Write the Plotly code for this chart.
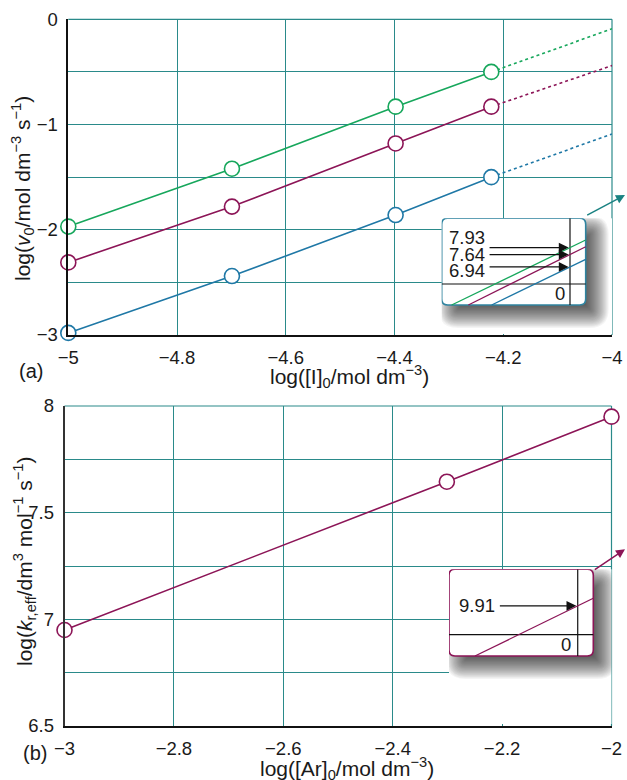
import plotly.graph_objects as go

W, H = 627, 780

# ---------------- data: panel (a) ----------------
log_I0 = [-5.0, -4.699, -4.398, -4.222]
log_v0_green = [-1.97, -1.42, -0.83, -0.50]
log_v0_purple = [-2.31, -1.78, -1.18, -0.83]
log_v0_blue = [-2.98, -2.44, -1.86, -1.50]
log_I0_extrap = [-4.222, -4.0]
extrap_green = [-0.50, -0.09]
extrap_purple = [-0.83, -0.44]
extrap_blue = [-1.50, -1.09]

# ---------------- data: panel (b) ----------------
log_Ar0 = [-3.0, -2.301, -2.0]
log_k_eff = [6.95, 7.645, 7.95]

# ---------------- inset data (schematic, inset units) ----------------
inset_a_labels = ["7.93", "7.64", "6.94"]
inset_a_green_u = [0.069, 1.0]
inset_a_green_v = [0.0, 0.75]
inset_a_purple_u = [0.185, 1.0]
inset_a_purple_v = [0.0, 0.672]
inset_a_blue_u = [0.347, 1.0]
inset_a_blue_v = [0.0, 0.527]
inset_a_axis_u = 0.891
inset_a_axis_v = 0.242

inset_b_label = "9.91"
inset_b_u = [0.18, 1.0]
inset_b_v = [0.0, 0.666]
inset_b_axis_u = 0.892
inset_b_axis_v = 0.246

# ---------------- tick labels ----------------
M = "\u2212"
xa_ticks = [-5, -4.8, -4.6, -4.4, -4.2, -4]
xa_text = [M + "5", M + "4.8", M + "4.6", M + "4.4", M + "4.2", M + "4"]
ya_ticks = [0, -0.5, -1, -1.5, -2, -2.5, -3]
ya_text = ["0", "", M + "1", "", M + "2", "", M + "3"]
xb_ticks = [-3, -2.8, -2.6, -2.4, -2.2, -2]
xb_text = [M + "3", M + "2.8", M + "2.6", M + "2.4", M + "2.2", M + "2"]
yb_ticks = [6.5, 6.75, 7, 7.25, 7.5, 7.75, 8]
yb_text = ["6.5", "", "7", "", "7.5", "", "8"]

# ---------------- styles ----------------
GREEN = "#17a75c"
PURPLE = "#8c1557"
BLUE = "#1f78a6"
GRID = "#2a8a8a"
TEAL = "#1a8282"
INSET_A_BORDER = "#2f84a0"
FONT = "Liberation Sans"
TXT = "#1a1a1a"
TICK_SIZE = 18.5
TITLE_SIZE = 21


def px(x):
    return x / W


def py(y):
    return 1 - y / H


fig = go.Figure()


def series(x, y, color, xa, ya):
    fig.add_trace(go.Scatter(
        x=x, y=y, mode="lines+markers", xaxis=xa, yaxis=ya, cliponaxis=False,
        line=dict(color=color, width=1.6),
        marker=dict(size=15, color="white", line=dict(color=color, width=1.6)),
        showlegend=False, hoverinfo="skip"))


def dotted(x, y, color, xa, ya):
    fig.add_trace(go.Scatter(
        x=x, y=y, mode="lines", xaxis=xa, yaxis=ya,
        line=dict(color=color, width=1.6, dash="dot"),
        showlegend=False, hoverinfo="skip"))


# panel (a)
dotted(log_I0_extrap, extrap_green, GREEN, "x", "y")
dotted(log_I0_extrap, extrap_purple, PURPLE, "x", "y")
dotted(log_I0_extrap, extrap_blue, BLUE, "x", "y")
series(log_I0, log_v0_green, GREEN, "x", "y")
series(log_I0, log_v0_purple, PURPLE, "x", "y")
series(log_I0, log_v0_blue, BLUE, "x", "y")

# panel (b)
series(log_Ar0, log_k_eff, PURPLE, "x2", "y2")

# inset (a) lines
for u, v, c in [(inset_a_green_u, inset_a_green_v, GREEN),
                (inset_a_purple_u, inset_a_purple_v, PURPLE),
                (inset_a_blue_u, inset_a_blue_v, BLUE)]:
    fig.add_trace(go.Scatter(x=u, y=v, mode="lines", xaxis="x3", yaxis="y3",
                             line=dict(color=c, width=1.3), showlegend=False,
                             hoverinfo="skip"))
# inset (b) line
fig.add_trace(go.Scatter(x=inset_b_u, y=inset_b_v, mode="lines", xaxis="x4", yaxis="y4",
                         line=dict(color=PURPLE, width=1.3), showlegend=False,
                         hoverinfo="skip"))

tickfont = dict(family=FONT, size=TICK_SIZE, color=TXT)
common = dict(showgrid=True, gridcolor=GRID, gridwidth=1, zeroline=False,
              showline=True, linecolor="#111", linewidth=1.5, automargin=False,
              ticks="outside", ticklen=5, tickcolor="rgba(0,0,0,0)",
              tickfont=tickfont, tickmode="array")

# main plot domains (px)
A_L, A_R, A_T, A_B = 68.3, 612.0, 19.3, 335.0
B_L, B_R, B_T, B_B = 64.5, 611.5, 406.0, 726.0

# inset boxes (px)
IA = dict(l=441.7, r=585.7, t=218.3, b=305.0, dr=612.0, db=334.0)
IB = dict(l=449.0, r=593.3, t=569.3, b=656.0, dr=611.5, db=724.0)


def inset_axes(box):
    w = box["r"] - box["l"]
    h = box["b"] - box["t"]
    xr = [0, (box["dr"] - box["l"]) / w]
    yr = [-(box["db"] - box["b"]) / h, 1]
    xd = [px(box["l"]), px(box["dr"])]
    yd = [py(box["db"]), py(box["t"])]
    return (w, h, dict(domain=xd, range=xr, visible=False, automargin=False),
            dict(domain=yd, range=yr, visible=False, automargin=False))


wa, ha, x3, y3 = inset_axes(IA)
wb, hb, x4, y4 = inset_axes(IB)

fig.update_layout(
    width=W, height=H, margin=dict(l=0, r=0, t=0, b=0, autoexpand=False),
    paper_bgcolor="white", plot_bgcolor="white",
    font=dict(family=FONT, color=TXT),
    xaxis=dict(domain=[px(A_L), px(A_R)], range=[-5, -4], anchor="y",
               tickvals=xa_ticks, ticktext=xa_text, **common),
    yaxis=dict(domain=[py(A_B), py(A_T)], range=[-3, 0], anchor="x",
               tickvals=ya_ticks, ticktext=ya_text, **common),
    xaxis2=dict(domain=[px(B_L), px(B_R)], range=[-3, -2], anchor="y2",
                tickvals=xb_ticks, ticktext=xb_text, **common),
    yaxis2=dict(domain=[py(B_B), py(B_T)], range=[6.5, 8], anchor="x2",
                tickvals=yb_ticks, ticktext=yb_text, **common),
    xaxis3=dict(anchor="y3", **x3), yaxis3=dict(anchor="x3", **y3),
    xaxis4=dict(anchor="y4", **x4), yaxis4=dict(anchor="x4", **y4),
)
fig.layout.yaxis2.linecolor = "#333"

shapes = []
# teal top / right border of main plots
for (l, r, t, b) in [(A_L, A_R, A_T, A_B), (B_L, B_R, B_T, B_B)]:
    shapes.append(dict(type="line", xref="paper", yref="paper", layer="below",
                       x0=px(l), x1=px(r), y0=py(t), y1=py(t), line=dict(color=GRID, width=1.2)))
    shapes.append(dict(type="line", xref="paper", yref="paper", layer="below",
                       x0=px(r), x1=px(r), y0=py(t), y1=py(b), line=dict(color=GRID, width=1.2)))


def rrect(x0, x1, y0, y1, rx, ry):
    rx = max(rx, 0)
    ry = max(ry, 0)
    return (f"M{x0+rx},{y0} L{x1-rx},{y0} Q{x1},{y0} {x1},{y0+ry} "
            f"L{x1},{y1-ry} Q{x1},{y1} {x1-rx},{y1} L{x0+rx},{y1} "
            f"Q{x0},{y1} {x0},{y1-ry} L{x0},{y0+ry} Q{x0},{y0} {x0+rx},{y0} Z")


def inset_shapes(xr, yr, w, h, border, ax_u, ax_v):
    out = []
    R = 6.0
    ox, oy, B, K = 10.0, 10.0, 13.0, 24
    alpha = 0.045
    for k in range(K):
        e = B - 2 * B * k / (K - 1)
        x0 = (ox - e) / w
        x1 = 1 + (ox + e) / w
        y0 = (-oy - e) / h
        y1 = 1 + (-oy + e) / h
        rr = R + e
        out.append(dict(type="path", xref=xr, yref=yr, layer="below",
                        path=rrect(x0, x1, y0, y1, rr / w, rr / h),
                        fillcolor=f"rgba(0,0,0,{alpha})", line=dict(width=0)))
    out.append(dict(type="path", xref=xr, yref=yr, layer="below",
                    path=rrect(0, 1, 0, 1, R / w, R / h),
                    fillcolor="white", line=dict(color=border, width=1.6)))
    out.append(dict(type="line", xref=xr, yref=yr, layer="below",
                    x0=ax_u, x1=ax_u, y0=0, y1=1, line=dict(color="#111", width=1.2)))
    out.append(dict(type="line", xref=xr, yref=yr, layer="below",
                    x0=0, x1=1, y0=ax_v, y1=ax_v, line=dict(color="#111", width=1.2)))
    return out


shapes += inset_shapes("x3", "y3", wa, ha, INSET_A_BORDER, inset_a_axis_u, inset_a_axis_v)
shapes += inset_shapes("x4", "y4", wb, hb, PURPLE, inset_b_axis_u, inset_b_axis_v)


def cross(u, v, ua):
    return v[0] + (v[1] - v[0]) * (ua - u[0]) / (u[1] - u[0])


ann = []
# inset (a) arrows & labels
label_v_a = [0.773, 0.577, 0.396]
for lbl, lv, (u, v) in zip(inset_a_labels, label_v_a,
                          [(inset_a_green_u, inset_a_green_v),
                           (inset_a_purple_u, inset_a_purple_v),
                           (inset_a_blue_u, inset_a_blue_v)]):
    vc = cross(u, v, inset_a_axis_u)
    ann.append(dict(xref="x3", yref="y3", axref="x3", ayref="y3",
                    x=inset_a_axis_u - 0.01, y=vc, ax=0.322, ay=vc, text="",
                    showarrow=True, arrowhead=2, arrowsize=1.5, arrowwidth=1.3,
                    arrowcolor="#111"))
    ann.append(dict(xref="x3", yref="y3", x=0.035, y=lv, text=lbl, showarrow=False,
                    xanchor="left", yanchor="middle",
                    font=dict(family=FONT, size=TICK_SIZE, color=TXT)))
ann.append(dict(xref="x3", yref="y3", x=0.87, y=0.13, text="0", showarrow=False,
                xanchor="right", yanchor="middle",
                font=dict(family=FONT, size=TICK_SIZE, color=TXT)))

# inset (b)
vcb = cross(inset_b_u, inset_b_v, inset_b_axis_u)
ann.append(dict(xref="x4", yref="y4", axref="x4", ayref="y4",
                x=inset_b_axis_u - 0.01, y=vcb, ax=0.342, ay=vcb, text="",
                showarrow=True, arrowhead=2, arrowsize=1.5, arrowwidth=1.3,
                arrowcolor="#111"))
ann.append(dict(xref="x4", yref="y4", x=0.055, y=vcb, text=inset_b_label, showarrow=False,
                xanchor="left", yanchor="middle",
                font=dict(family=FONT, size=TICK_SIZE, color=TXT)))
ann.append(dict(xref="x4", yref="y4", x=0.86, y=0.13, text="0", showarrow=False,
                xanchor="right", yanchor="middle",
                font=dict(family=FONT, size=TICK_SIZE, color=TXT)))

# external arrows from the inset corners
ann.append(dict(xref="paper", yref="paper", x=px(625), y=py(195), ax=585.7 - 625, ay=216 - 195,
                text="", showarrow=True, arrowhead=2, arrowsize=1.2, arrowwidth=1.5,
                arrowcolor=TEAL))
ann.append(dict(xref="paper", yref="paper", x=px(625), y=py(549.3), ax=593.3 - 625, ay=570.7 - 549.3,
                text="", showarrow=True, arrowhead=2, arrowsize=1.2, arrowwidth=1.5,
                arrowcolor=PURPLE))

# axis titles
tfont = dict(family=FONT, size=TITLE_SIZE, color=TXT)
ann.append(dict(xref="paper", yref="paper", x=px(349), y=py(376),
                text="log([I]<sub>0</sub>/mol dm<sup>" + M + "3</sup>)",
                showarrow=False, xanchor="center", yanchor="middle", font=tfont))
ann.append(dict(xref="paper", yref="paper", x=px(22), y=py(189), textangle=-90,
                text="log(<i>v</i><sub>0</sub>/mol dm<sup>" + M + "3</sup> s<sup>" + M + "1</sup>)",
                showarrow=False, xanchor="center", yanchor="middle", font=tfont))
ann.append(dict(xref="paper", yref="paper", x=px(347), y=py(768),
                text="log([Ar]<sub>0</sub>/mol dm<sup>" + M + "3</sup>)",
                showarrow=False, xanchor="center", yanchor="middle", font=tfont))
ann.append(dict(xref="paper", yref="paper", x=px(24), y=py(562), textangle=-90,
                text="log(<i>k</i><sub>r,eff</sub>/dm<sup>3</sup> mol<sup>" + M + "1</sup> s<sup>" + M + "1</sup>)",
                showarrow=False, xanchor="center", yanchor="middle", font=tfont))
# panel labels
ann.append(dict(xref="paper", yref="paper", x=px(31), y=py(371), text="(a)",
                showarrow=False, xanchor="center", yanchor="middle",
                font=dict(family=FONT, size=20, color=TXT)))
ann.append(dict(xref="paper", yref="paper", x=px(35), y=py(753), text="(b)",
                showarrow=False, xanchor="center", yanchor="middle",
                font=dict(family=FONT, size=20, color=TXT)))

fig.update_layout(shapes=shapes, annotations=ann)
fig.write_html("out.html", config=dict(displayModeBar=False),
               post_script="document.body.style.margin='0px';document.body.style.overflow='hidden';")
